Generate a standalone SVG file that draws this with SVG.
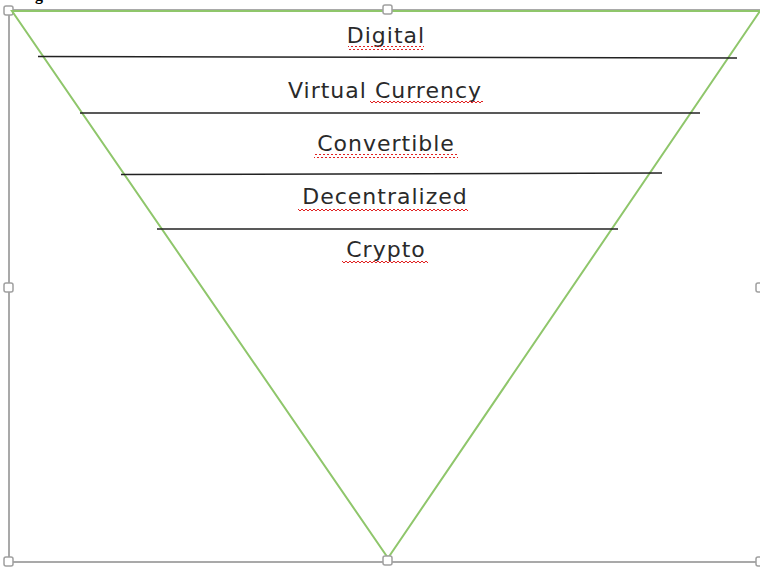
<svg xmlns="http://www.w3.org/2000/svg" width="760" height="570" viewBox="0 0 760 570">
<style>
.lbl{font-family:"DejaVu Sans",sans-serif;font-size:22px;letter-spacing:1px;fill:#2a2a2a;text-anchor:middle}
.frame{fill:none;stroke:#a9a9a9;stroke-width:2}
.handle{fill:#fff;stroke:#a0a0a0;stroke-width:1.5}
.tri{fill:#fff;stroke:#8fc66b;stroke-width:2}
.sep{stroke:#222;stroke-width:1.5}
.wavy{fill:url(#wv)}
</style>
<defs>
<pattern id="wv" width="4" height="4" patternUnits="userSpaceOnUse">
<path d="M0,3 L2,1 L4,3" fill="none" stroke="#e02020" stroke-width="1"/>
</pattern>
</defs>
<rect width="760" height="570" fill="#fff"/>
<text x="35" y="0" font-family="Liberation Serif,serif" font-weight="bold" font-size="16" fill="#000">g</text>
<g id="frame">
<path class="frame" d="M9,10 H760 M9,10 V562 H760"/>
<rect class="handle" x="4" y="6" width="9" height="9" rx="2"/>
<rect class="handle" x="4" y="283" width="9" height="9" rx="2"/>
<rect class="handle" x="756" y="283" width="9" height="9" rx="2"/>
<rect class="handle" x="4" y="557" width="9" height="9" rx="2"/>
<rect class="handle" x="756" y="557" width="9" height="9" rx="2"/>
</g>
<g id="funnel">
<polygon class="tri" points="12,11 760,11 388,558"/>
<rect class="handle" x="383" y="5" width="9" height="9" rx="2"/>
<rect class="handle" x="383" y="556" width="9" height="9" rx="2"/>
</g>
<g id="connectors">
<line class="sep" x1="38" y1="56.5" x2="737" y2="58"/>
<line class="sep" x1="80" y1="113" x2="700" y2="113"/>
<line class="sep" x1="121" y1="174.5" x2="662" y2="173"/>
<line class="sep" x1="157" y1="229" x2="618" y2="229"/>
</g>
<g id="n-digital">
<text class="lbl" x="386" y="43">Digital</text>
<rect class="wavy" x="348" y="46" width="76" height="4"/>
</g>
<g id="n-virtual">
<text class="lbl" x="385" y="98">Virtual Currency</text>
<rect class="wavy" x="370" y="100" width="113" height="4"/>
</g>
<g id="n-convertible">
<text class="lbl" x="386" y="151">Convertible</text>
<rect class="wavy" x="314" y="154" width="144" height="4"/>
</g>
<g id="n-decentralized">
<text class="lbl" x="385" y="204">Decentralized</text>
<rect class="wavy" x="298" y="208" width="170" height="4"/>
</g>
<g id="n-crypto">
<text class="lbl" x="386" y="257">Crypto</text>
<rect class="wavy" x="342" y="260" width="86" height="4"/>
</g>
</svg>
